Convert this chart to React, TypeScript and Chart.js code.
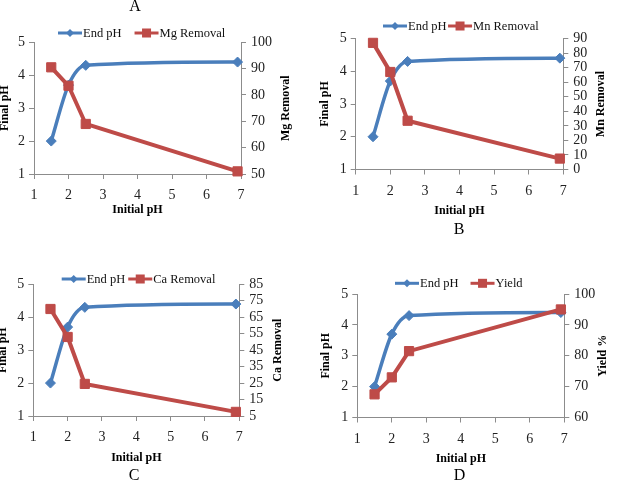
import React, { useEffect, useRef } from "react";
import { Chart, registerables } from "chart.js";

Chart.register(...registerables);

// Shared x values (initial pH) and the end pH series
const initialPH = [1.5, 2, 2.5, 6.9];
const endPH = [2.0, 3.7, 4.3, 4.4];

// Second series of each panel
const mgRemoval = [90.5, 83.5, 69, 51];
const mnRemoval = [87, 67, 33.5, 7.5];
const caRemoval = [70, 53, 24.5, 7.5];
const yieldPct = [67.5, 73, 81.5, 95];

// Axis ranges
const xRange = { min: 1, max: 7, step: 1 };
const leftRange = { min: 1, max: 5, step: 1 };
const mgRange = { min: 50, max: 100, step: 10 };
const mnRange = { min: 0, max: 90, step: 10 };
const caRange = { min: 5, max: 85, step: 10 };
const yieldRange = { min: 60, max: 100, step: 10 };

const BLUE = "#4a7ebb";
const RED = "#be4b48";
const AXIS = "#8c8c8c";
const SERIF = "'Liberation Serif', 'Times New Roman', serif";

const W = 309;
const H = 240;

type Range = { min: number; max: number; step: number };

type PanelSpec = {
  letter: string;
  letterX: number;
  letterY: number;
  seriesLabel: string;
  values: number[];
  range: Range;
  rightTitle: string;
  offX: number;
  offY: number;
  area: { left: number; right: number; top: number; bottom: number };
  legend: { x: number; y: number; gap: number };
  titles: { leftDx: number; rightDx: number; xDy: number };
};

const panels: PanelSpec[] = [
  {
    letter: "A", letterX: 135, letterY: 10.5,
    seriesLabel: "Mg Removal", values: mgRemoval, range: mgRange, rightTitle: "Mg Removal",
    offX: 0, offY: 0,
    area: { left: 34, right: 241, top: 42.3, bottom: 174 },
    legend: { x: 58, y: 33, gap: 13 },
    titles: { leftDx: 29, rightDx: 45, xDy: 36 },
  },
  {
    letter: "B", letterX: 150, letterY: 233.5,
    seriesLabel: "Mn Removal", values: mnRemoval, range: mnRange, rightTitle: "Mn Removal",
    offX: 309, offY: 0,
    area: { left: 46.7, right: 254.3, top: 38.5, bottom: 169.5 },
    legend: { x: 74, y: 26, gap: 1.5 },
    titles: { leftDx: 31, rightDx: 38, xDy: 41 },
  },
  {
    letter: "C", letterX: 134, letterY: 239.5,
    seriesLabel: "Ca Removal", values: caRemoval, range: caRange, rightTitle: "Ca Removal",
    offX: 0, offY: 240,
    area: { left: 33.3, right: 239.3, top: 44.3, bottom: 176 },
    legend: { x: 61.7, y: 39, gap: 3 },
    titles: { leftDx: 30, rightDx: 39, xDy: 42 },
  },
  {
    letter: "D", letterX: 150.5, letterY: 239.5,
    seriesLabel: "Yield", values: yieldPct, range: yieldRange, rightTitle: "Yield %",
    offX: 309, offY: 240,
    area: { left: 48.3, right: 255.3, top: 54, bottom: 177.5 },
    legend: { x: 86, y: 43.3, gap: 12 },
    titles: { leftDx: 31, rightDx: 39, xDy: 41 },
  },
];

function drawDiamond(ctx: CanvasRenderingContext2D, x: number, y: number, r: number) {
  ctx.beginPath();
  ctx.moveTo(x, y - r);
  ctx.lineTo(x + r, y);
  ctx.lineTo(x, y + r);
  ctx.lineTo(x - r, y);
  ctx.closePath();
  ctx.fill();
}

function makeDecor(p: PanelSpec) {
  return {
    id: "panelDecor",
    afterDraw(chart: Chart) {
      const ctx = chart.ctx;
      const ca = chart.chartArea;
      const midY = (ca.top + ca.bottom) / 2;
      const midX = (ca.left + ca.right) / 2;
      ctx.save();

      // legend
      const lineLen = 24;
      ctx.font = `12.5px ${SERIF}`;
      ctx.textBaseline = "middle";
      ctx.textAlign = "left";
      let x = p.legend.x;
      const y = p.legend.y;
      ctx.strokeStyle = BLUE;
      ctx.fillStyle = BLUE;
      ctx.lineWidth = 3;
      ctx.beginPath();
      ctx.moveTo(x, y);
      ctx.lineTo(x + lineLen, y);
      ctx.stroke();
      drawDiamond(ctx, x + lineLen / 2, y, 4);
      ctx.fillStyle = "#111";
      const t1 = "End pH";
      ctx.fillText(t1, x + lineLen + 1, y + 0.5);
      x = x + lineLen + 1 + ctx.measureText(t1).width + p.legend.gap;
      ctx.strokeStyle = RED;
      ctx.fillStyle = RED;
      ctx.beginPath();
      ctx.moveTo(x, y);
      ctx.lineTo(x + lineLen, y);
      ctx.stroke();
      ctx.fillRect(x + lineLen / 2 - 4.5, y - 4.5, 9, 9);
      ctx.fillStyle = "#111";
      ctx.fillText(p.seriesLabel, x + lineLen + 1, y + 0.5);

      // axis titles
      ctx.font = `bold 12px ${SERIF}`;
      ctx.textAlign = "center";
      ctx.textBaseline = "middle";
      ctx.fillStyle = "#000";
      ctx.fillText("Initial pH", midX, ca.bottom + p.titles.xDy);

      ctx.save();
      ctx.translate(ca.left - p.titles.leftDx, midY);
      ctx.rotate(-Math.PI / 2);
      ctx.fillText("Final pH", 0, 0);
      ctx.restore();

      ctx.save();
      ctx.translate(ca.right + p.titles.rightDx, midY);
      ctx.rotate(-Math.PI / 2);
      ctx.fillText(p.rightTitle, 0, 0);
      ctx.restore();

      // panel letter
      ctx.font = `16px ${SERIF}`;
      ctx.textBaseline = "alphabetic";
      ctx.fillStyle = "#000";
      ctx.fillText(p.letter, p.letterX, p.letterY);

      ctx.restore();
    },
  };
}

const axisGrid = {
  display: true,
  drawOnChartArea: false,
  drawTicks: true,
  tickLength: 5,
  color: AXIS,
  lineWidth: 1,
};
const axisBorder = { display: true, color: AXIS, width: 1 };
const tickFont = { family: SERIF, size: 14 };

function PanelChart({ p }: { p: PanelSpec }) {
  const ref = useRef<HTMLCanvasElement>(null);

  useEffect(() => {
    const canvas = ref.current;
    if (!canvas) return;
    const chart = new Chart(canvas, {
      type: "line",
      data: {
        datasets: [
          {
            label: "End pH",
            data: initialPH.map((x, i) => ({ x, y: endPH[i] })),
            yAxisID: "y",
            borderColor: BLUE,
            backgroundColor: BLUE,
            borderWidth: 3.5,
            pointStyle: "rectRot",
            pointRadius: 5,
            pointBorderWidth: 1,
            cubicInterpolationMode: "monotone",
            clip: false,
            order: 1,
          },
          {
            label: p.seriesLabel,
            data: initialPH.map((x, i) => ({ x, y: p.values[i] })),
            yAxisID: "y1",
            borderColor: RED,
            backgroundColor: RED,
            borderWidth: 4,
            pointStyle: "rect",
            pointRadius: 6.5,
            pointBorderWidth: 1,
            tension: 0,
            clip: false,
            order: 0,
          },
        ],
      },
      options: {
        responsive: false,
        animation: false,
        events: [],
        layout: { padding: { left: 0, right: 0, top: p.area.top, bottom: 0 } },
        plugins: {
          legend: { display: false },
          title: { display: false },
          tooltip: { enabled: false },
        },
        scales: {
          x: {
            type: "linear",
            position: "bottom",
            min: xRange.min,
            max: xRange.max,
            ticks: { stepSize: xRange.step, font: tickFont, color: "#222", padding: 8, maxRotation: 0, autoSkip: false },
            grid: axisGrid,
            border: axisBorder,
            afterFit: (s: any) => {
              s.height = H - p.area.bottom;
            },
          },
          y: {
            type: "linear",
            position: "left",
            min: leftRange.min,
            max: leftRange.max,
            ticks: { stepSize: leftRange.step, font: tickFont, color: "#222", padding: 4, autoSkip: false },
            grid: axisGrid,
            border: axisBorder,
            afterFit: (s: any) => {
              s.width = p.area.left;
            },
          },
          y1: {
            type: "linear",
            position: "right",
            min: p.range.min,
            max: p.range.max,
            ticks: { stepSize: p.range.step, font: tickFont, color: "#222", padding: 5, autoSkip: false },
            grid: axisGrid,
            border: axisBorder,
            afterFit: (s: any) => {
              s.width = W - p.area.right;
            },
          },
        },
      } as any,
      plugins: [makeDecor(p)],
    });
    return () => chart.destroy();
  }, [p]);

  return (
    <div style={{ position: "absolute", left: p.offX, top: p.offY, width: W, height: H }}>
      <canvas ref={ref} width={W} height={H} style={{ width: W, height: H, display: "block" }} />
    </div>
  );
}

export default function App() {
  return (
    <div
      style={{
        position: "absolute",
        left: 0,
        top: 0,
        width: 618,
        height: 480,
        background: "#fff",
        overflow: "hidden",
      }}
    >
      {panels.map((p) => (
        <PanelChart key={p.letter} p={p} />
      ))}
    </div>
  );
}
